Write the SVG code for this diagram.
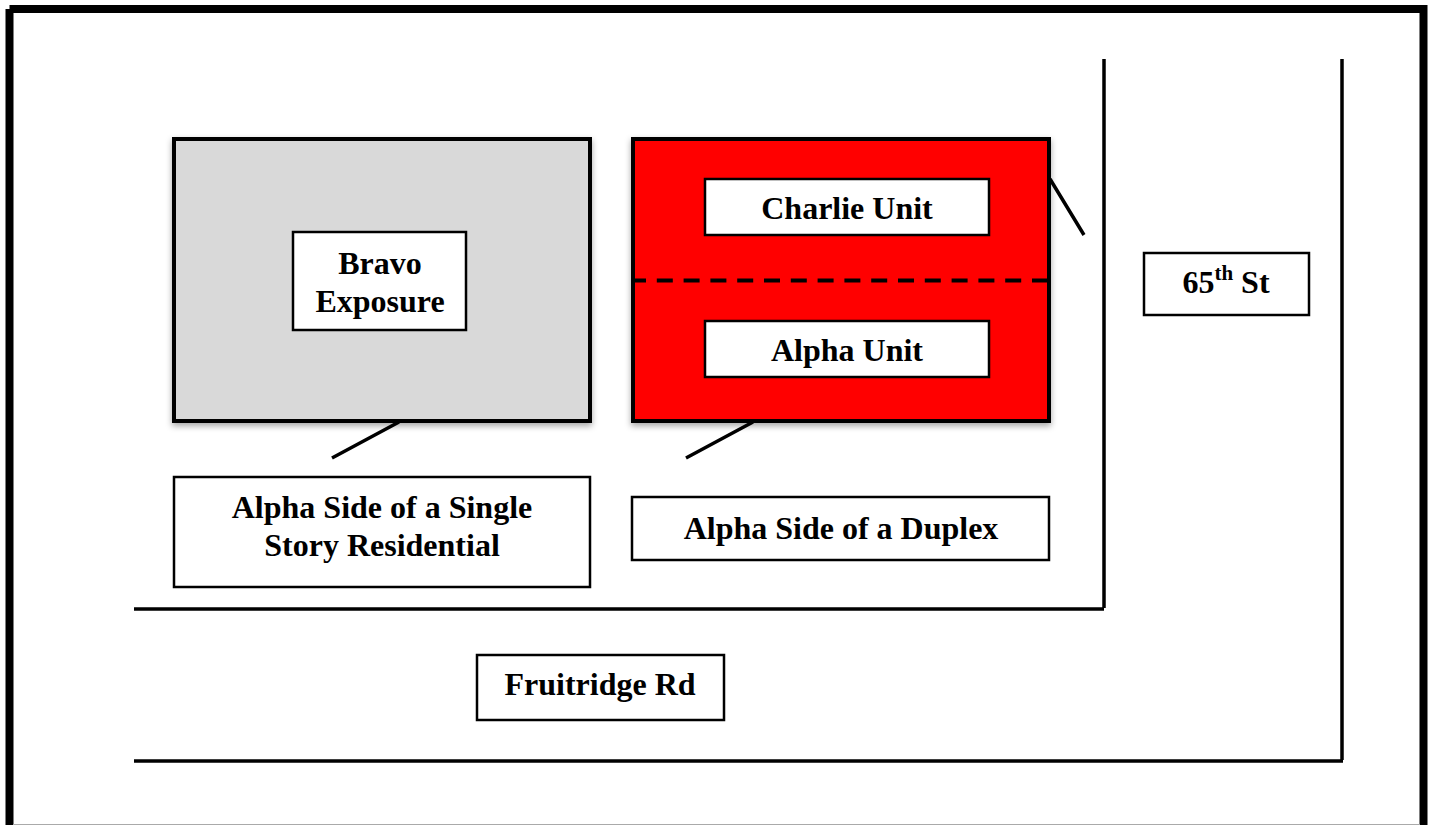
<svg xmlns="http://www.w3.org/2000/svg" width="1432" height="825" viewBox="0 0 1432 825">
<defs>
<filter id="sh" x="-5%" y="-5%" width="110%" height="110%"><feDropShadow dx="0" dy="3" stdDeviation="3" flood-color="#000" flood-opacity="0.35"/></filter>
</defs>
<style>
.lbl{fill:#fff;stroke:#000;stroke-width:2.500}
.bld{stroke:#000;stroke-width:4}
.ln{stroke:#000;stroke-width:3.500;fill:none}
text{font-family:"Liberation Serif","Times New Roman",serif;font-weight:bold;font-size:32px;fill:#000;text-anchor:middle}
</style>
<rect width="1432" height="825" fill="#fff"/>
<g id="frame">
<path d="M9.500 9H1423.500V825M9.500 9V825" fill="none" stroke="#000" stroke-width="8"/>
<rect x="13" y="824" width="1407" height="1" fill="#aaa"/>
</g>
<g id="connectors">
<path class="ln" d="M1104 59V608M134 609H1104M1342 59V760M134 761H1343"/>
<path class="ln" d="M1050 179L1084 235M399 422L332 458M753 422L686 458"/>
</g>
<g id="bravo-building"><rect class="bld" x="174" y="139" width="416" height="282" fill="#d9d9d9" filter="url(#sh)"/></g>
<g id="duplex-building"><rect class="bld" x="633" y="139" width="416" height="282" fill="#f00" filter="url(#sh)"/>
<path d="M634 280.500H1048" stroke="#000" stroke-width="4" stroke-dasharray="16 10.800" stroke-dashoffset="4" fill="none"/></g>
<g id="bravo-exposure"><rect class="lbl" x="293" y="232" width="173" height="98"/><text x="380" y="274">Bravo</text><text x="380" y="312">Exposure</text></g>
<g id="charlie-unit"><rect class="lbl" x="705" y="179" width="284" height="56"/><text x="847" y="219">Charlie Unit</text></g>
<g id="alpha-unit"><rect class="lbl" x="705" y="321" width="284" height="56"/><text x="847" y="361">Alpha Unit</text></g>
<g id="street-65"><rect class="lbl" x="1144" y="253" width="165" height="62"/><text x="1226" y="293">65<tspan font-size="21" dy="-13">th</tspan><tspan dy="13"> St</tspan></text></g>
<g id="alpha-single"><rect class="lbl" x="174" y="477" width="416" height="110"/><text x="382" y="518">Alpha Side of a Single</text><text x="382" y="556">Story Residential</text></g>
<g id="alpha-duplex"><rect class="lbl" x="632" y="497" width="417" height="63"/><text x="841" y="539">Alpha Side of a Duplex</text></g>
<g id="fruitridge"><rect class="lbl" x="477" y="655" width="247" height="65"/><text x="600" y="695">Fruitridge Rd</text></g>
</svg>
